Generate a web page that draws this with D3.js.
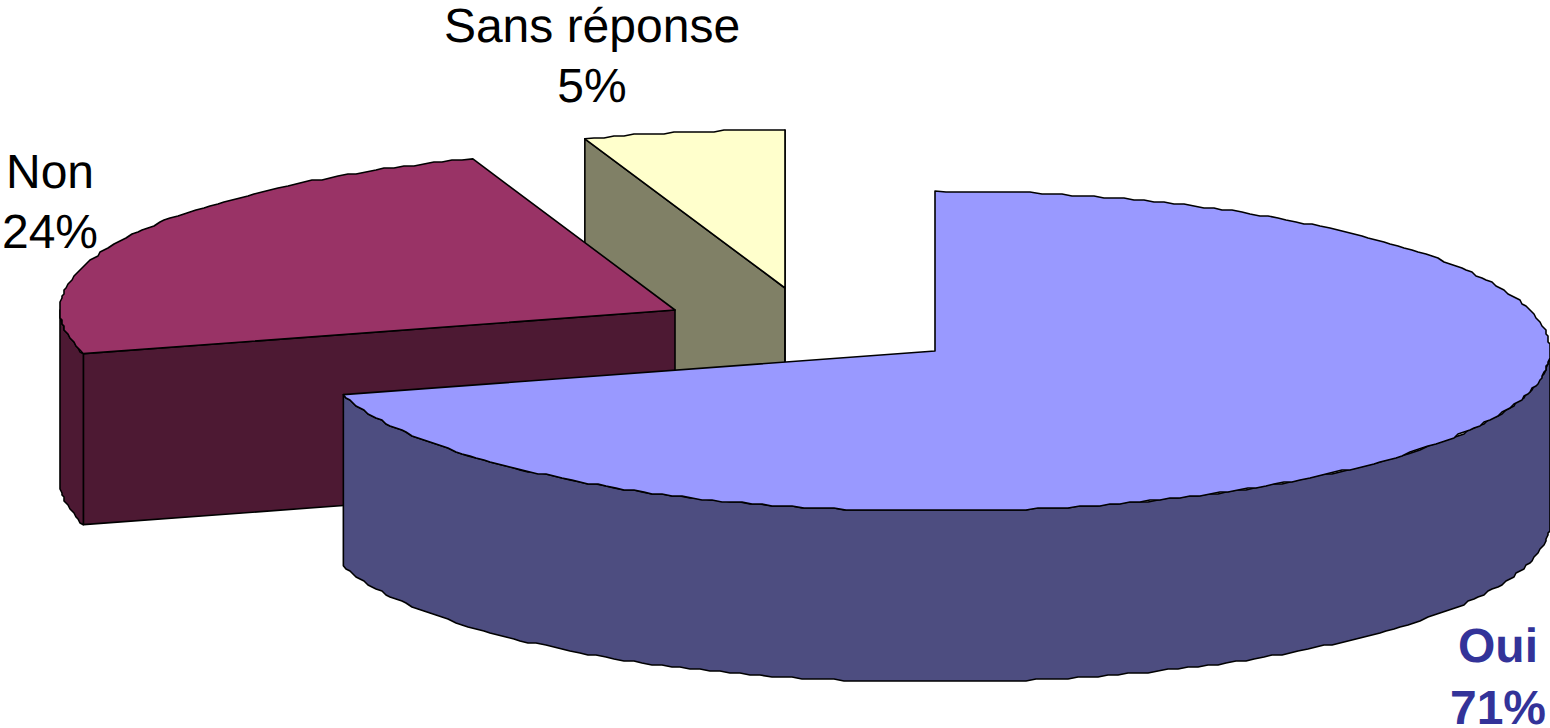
<!DOCTYPE html>
<html><head><meta charset="utf-8">
<script src="https://cdnjs.cloudflare.com/ajax/libs/d3/7.8.5/d3.min.js"></script>
<style>html,body{margin:0;padding:0;background:#fff;overflow:hidden}svg{display:block}text{font-family:"Liberation Sans",Arial,sans-serif;font-size:48px;text-rendering:geometricPrecision}</style>
</head><body><svg id="c" width="1550" height="728"></svg>
<script>
const categories = ["Oui","Non","Sans réponse"];
const shareValues = [70.6,24.07,5.33];
const shareLabels = ["71%","24%","5%"];
const topColors = ["#9999FF","#993366","#FFFFCC"];
const sideColors = ["#4D4D80","#4D1933","#808066"];
const centers = [[935,351],[675,310],[785,288]];
const labelSpots = [[1498,662],[50,188],[592,42]];
const labelGaps = [62,60,60];
const labelWeights = ["bold","normal","normal"];
const labelColors = ["#333399","#000","#000"];
const radiiX = [615,615,609], radiiY = [160,160,158], depth = 171;

const svg = d3.select("#c");
const arcs = d3.pie().sort(null).value(d=>d)(shareValues);
const line = d3.line().x(d=>d[0]).y(d=>d[1]);
const snap = (v,s)=>Math.round(v/s)*s;
function rim(i,a0,a1,dy=0){
  const [cx,cy]=centers[i], rx=radiiX[i], ry=radiiY[i], n=Math.max(1,Math.ceil(Math.abs(a1-a0)/(Math.PI/180)));
  return d3.range(n+1).map(k=>{
    const t=a0+(a1-a0)*k/n;
    const x=cx+rx*Math.sin(t), y=cy-ry*Math.cos(t);
    const end=(k===0||k===n);
    return [end?x:snap(x,2), (end?y:snap(y,2))+dy];
  });
}
const style=(s,fill)=>s.attr("fill",fill).attr("stroke","#000").attr("stroke-width",1.6).attr("stroke-linejoin","round");
function poly(pts,fill){ style(svg.append("path").attr("d",line(pts)+"Z"),fill); }

[2,1,0].forEach(i=>{
  const a=arcs[i], [cx,cy]=centers[i], c=[cx,cy], rx=radiiX[i], ry=radiiY[i];
  const pt=t=>[cx+rx*Math.sin(t),cy-ry*Math.cos(t)];
  const down=p=>[p[0],p[1]+depth];
  [a.startAngle,a.endAngle].forEach(t=>{
    const p=pt(t);
    if(i===0) return;
    if(i===1 && t===a.endAngle) return;
    poly([c,p,down(p),down(c)],sideColors[i]);
  });
  const lo=Math.max(a.startAngle,Math.PI/2), hi=Math.min(a.endAngle,3*Math.PI/2);
  if(lo<hi){
    poly([...rim(i,lo,hi),...rim(i,hi,lo,depth)],sideColors[i]);
  }
  poly([c,...rim(i,a.startAngle,a.endAngle)],topColors[i]);
});

categories.forEach((name,i)=>{
  const [x,y]=labelSpots[i];
  const t=svg.append("text").attr("text-anchor","middle").attr("font-weight",labelWeights[i]).attr("fill",labelColors[i]);
  t.append("tspan").attr("x",x).attr("y",y).text(name);
  t.append("tspan").attr("x",x).attr("y",y+labelGaps[i]).text(shareLabels[i]);
});
</script></body></html>
